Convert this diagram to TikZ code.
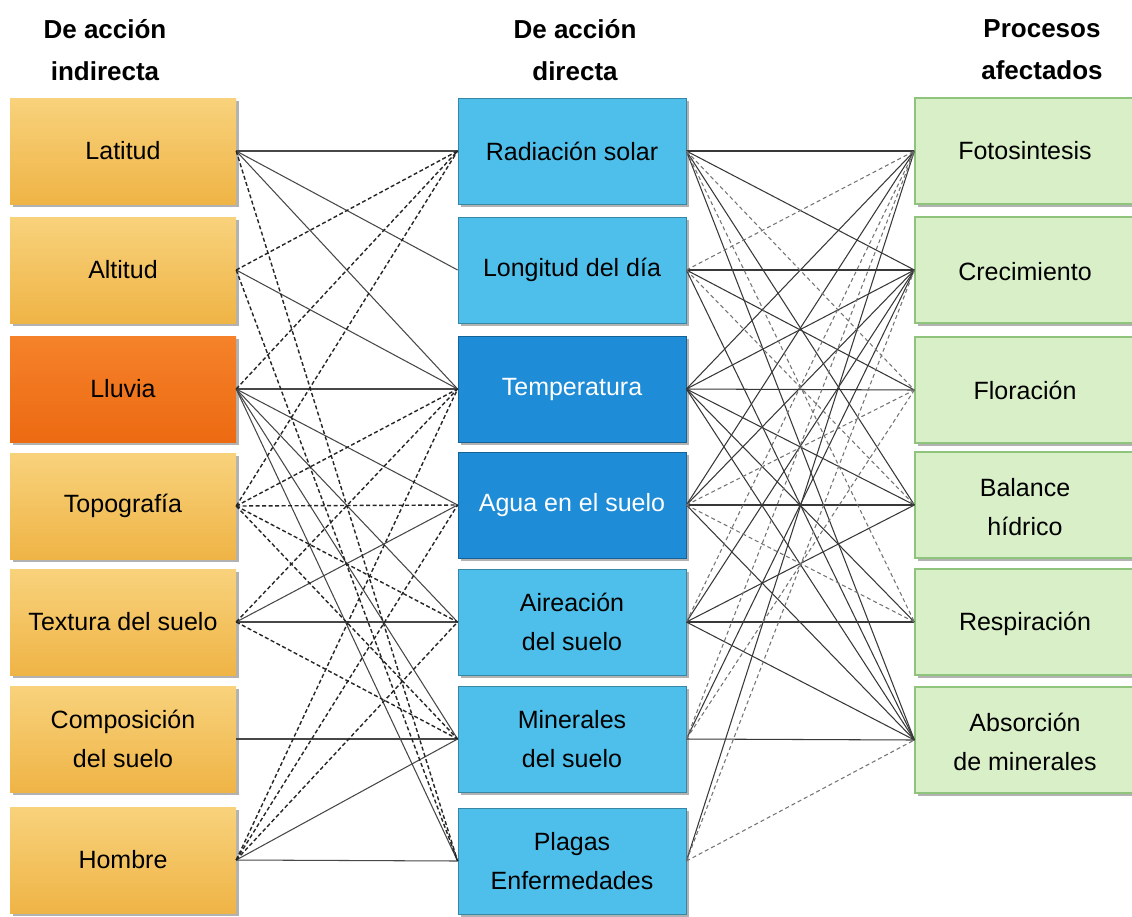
\documentclass[tikz,border=0pt]{standalone}
\usepackage{fontspec}
\setmainfont{Liberation Sans}
\usetikzlibrary{shadows}
\definecolor{ytop}{HTML}{F8D27C}
\definecolor{ybot}{HTML}{EFB446}
\definecolor{otop}{HTML}{F5822A}
\definecolor{obot}{HTML}{EC6A12}
\definecolor{mblue}{HTML}{4EBFEA}
\definecolor{dblue}{HTML}{1E8CD6}
\definecolor{rgreen}{HTML}{D9EFC8}
\definecolor{rborder}{HTML}{8EC47C}
\begin{document}
\begin{tikzpicture}[x=1pt,y=-1pt,
  box/.style={rectangle, minimum height=106pt, inner sep=0pt, align=center,
    font=\fontsize{25}{39}\selectfont,
    drop shadow={shadow xshift=3pt,shadow yshift=-3pt,fill=black!60,opacity=.5}},
  lbox/.style={box, minimum width=226pt, top color=ytop, bottom color=ybot},
  obox/.style={box, minimum width=226pt, top color=otop, bottom color=obot},
  mbox/.style={box, minimum width=228pt, fill=mblue, draw=mblue!70!black, line width=0.8pt},
  dbox/.style={box, minimum width=228pt, fill=dblue, draw=dblue!70!black, line width=0.8pt, text=white},
  rbox/.style={box, minimum width=250pt, fill=rgreen, draw=rborder, line width=1.2pt},
  rtext/.style={align=center, inner sep=0pt, font=\fontsize{25}{39}\selectfont},
  ttl/.style={font=\bfseries\fontsize{26}{42}\selectfont, align=center},
  ls/.style={draw=black!72, line width=1.05pt},
  ld/.style={draw=black!85, line width=1.4pt, dash pattern=on 4pt off 2.5pt},
  rs/.style={draw=black!78, line width=1.05pt},
  rd/.style={draw=black!55, line width=1.05pt, dash pattern=on 4pt off 3pt}
]
\useasboundingbox (0,0) rectangle (1132,916);
\fill[white] (0,0) rectangle (1132,916);

% titles
\node[ttl] (t1) at (105,50) {De acción\\indirecta};
\node[ttl] (t2) at (575,50) {De acción\\directa};
\node[ttl] (t3) at (1042,50) {Procesos\\afectados};

% left column
\node[lbox] (L1) at (123,151) {Latitud};
\node[lbox] (L2) at (123,270) {Altitud};
\node[obox] (L3) at (123,389) {Lluvia};
\node[lbox] (L4) at (123,506) {Topografía};
\node[lbox] (L5) at (123,622) {Textura del suelo};
\node[lbox] (L6) at (123,739) {Composición\\del suelo};
\node[lbox] (L7) at (123,860) {Hombre};

% middle column
\node[mbox] (M1) at (572,151) {Radiación solar};
\node[mbox] (M2) at (572,270) {Longitud del día};
\node[dbox] (M3) at (572,389) {Temperatura};
\node[dbox] (M4) at (572,505) {Agua en el suelo};
\node[mbox] (M5) at (572,622) {Aireación\\del suelo};
\node[mbox] (M6) at (572,739) {Minerales\\del suelo};
\node[mbox] (M7) at (572,861) {Plagas\\Enfermedades};

% right column (boxes run off the right edge)
\node[rbox] (R1) at (1040,151) {};
\node[rbox] (R2) at (1040,270) {};
\node[rbox] (R3) at (1040,390) {};
\node[rbox] (R4) at (1040,505) {};
\node[rbox] (R5) at (1040,622) {};
\node[rbox] (R6) at (1040,740) {};
\node[rtext] (R1t) at (1025,151) {Fotosintesis};
\node[rtext] (R2t) at (1025,272) {Crecimiento};
\node[rtext] (R3t) at (1025,390) {Floración};
\node[rtext] (R4t) at (1025,507) {Balance\\hídrico};
\node[rtext] (R5t) at (1025,624) {Respiración};
\node[rtext] (R6t) at (1025,742) {Absorción\\de minerales};

% left connectors
\foreach \a/\b in {1/1,1/2,1/3,2/3,3/3,3/4,3/5,3/6,3/7,5/4,5/5,6/6,7/6,7/7}
  \draw[ls] (L\a.east) -- (M\b.west);
\foreach \a/\b in {1/7,2/1,2/7,3/1,4/1,4/3,4/4,4/5,4/6,5/3,5/6,7/3,7/4,7/5}
  \draw[ld] (L\a.east) -- (M\b.west);

% right connectors
\foreach \a/\b in {1/1,1/2,1/4,1/6,2/2,2/3,2/6,3/1,3/2,3/3,3/4,3/5,3/6,4/1,4/2,4/4,4/6,5/2,5/4,5/5,5/6,6/2,6/6,7/1}
  \draw[rs] (M\a.east) -- (R\b.west);
\foreach \a/\b in {1/3,1/5,2/1,2/4,4/3,4/5,5/1,6/1,6/3,7/2,7/6}
  \draw[rd] (M\a.east) -- (R\b.west);
\end{tikzpicture}
\end{document}
